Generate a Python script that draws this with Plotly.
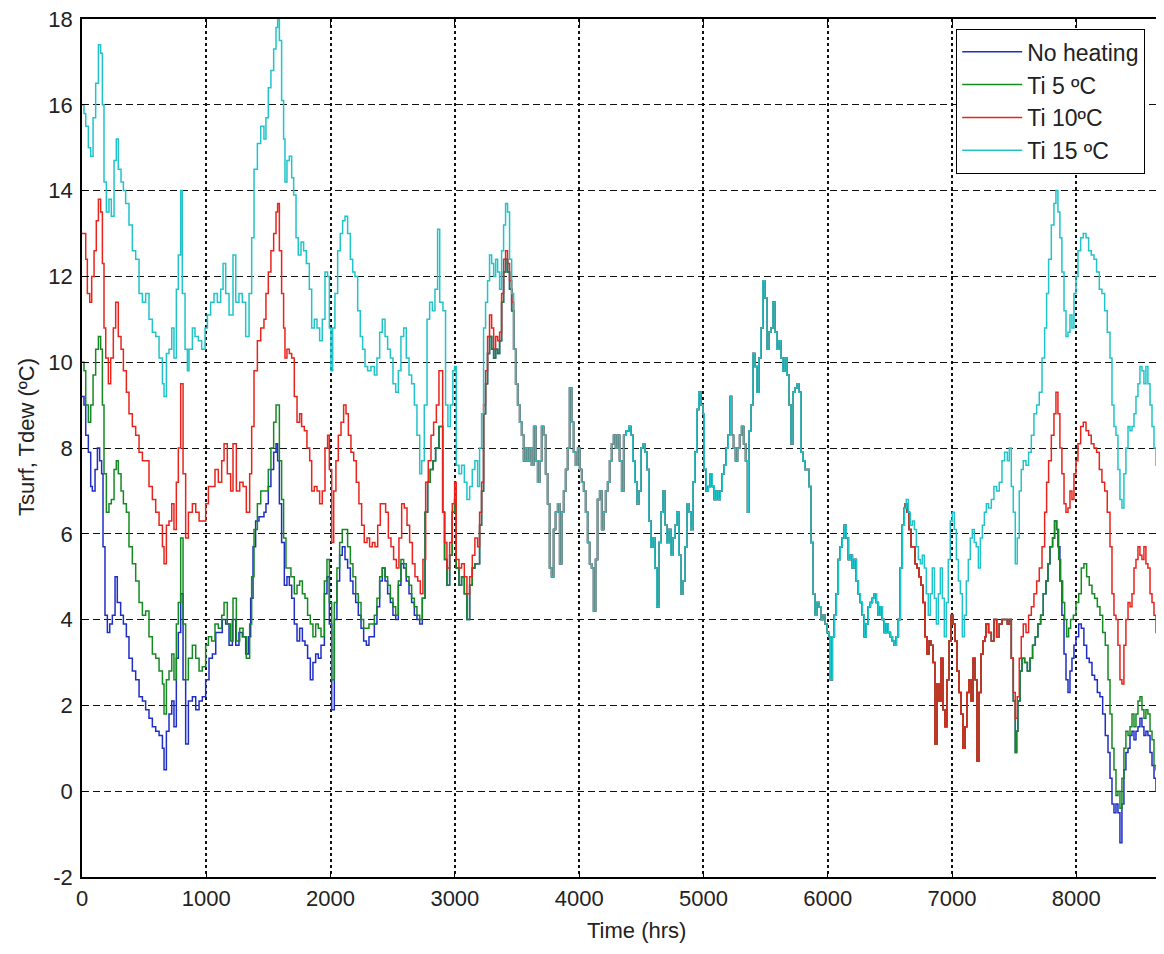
import plotly.graph_objects as go

# ---------------- data (hour, temperature) ----------------
x_ticks = [0, 1000, 2000, 3000, 4000, 5000, 6000, 7000, 8000]
y_ticks = [-2, 0, 2, 4, 6, 8, 10, 12, 14, 16, 18]
series_names = ["No heating", "Ti 5 ºC", "Ti 10ºC", "Ti 15 ºC"]

# Ti 15 ºC, start of year (0 - 3460 h)
cyan_head = [(0,16.0),(16,15.8),(30,15.5),(51,15.0),(70,14.8),(89,15.7),(110,16.5),(132,17.4),(150,17.2),(164,16.0),
    (177,14.2),(196,13.5),(217,13.8),(236,13.4),(258,14.7),(276,15.2),(292,14.5),(314,14.2),(333,14.0),(351,13.7),
    (378,13.2),(405,12.6),(432,12.4),(459,11.6),(486,11.4),(512,11.6),(539,11.0),(566,10.7),(593,10.6),(620,10.1),
    (647,9.5),(660,9.2),(679,10.2),(700,10.3),(722,10.8),(740,10.1),(759,11.7),(775,12.5),(794,14.0),(807,11.6),
    (829,10.3),(848,9.8),(861,10.3),(888,10.8),(909,10.6),(936,10.5),(963,10.3),(990,10.8),(1009,11.1),(1035,11.4),
    (1062,11.6),(1089,11.4),(1116,11.7),(1135,12.3),(1156,11.6),(1183,11.1),(1215,12.5),(1237,11.4),(1263,11.6),(1290,11.4),
    (1317,10.6),(1344,11.6),(1365,12.9),(1384,14.5),(1411,15.1),(1438,15.5),(1464,15.2),
    (1480,15.7),(1499,16.4),(1520,16.8),(1542,17.3),(1561,17.8),(1574,18.0),(1588,17.5),(1606,16.1),(1622,15.2),(1633,14.2),
    (1649,14.7),(1668,14.8),(1687,14.3),(1703,13.9),(1722,12.9),(1740,12.5),(1762,12.8),(1783,12.6),(1805,12.3),(1829,11.7),
    (1848,10.8),(1869,11.0),(1891,10.8),(1912,10.5),(1933,11.0),(1955,12.1),(1976,12.0),(1990,10.8),(2003,9.8),(2017,10.8),
    (2035,11.6),(2057,12.6),(2078,13.0),(2097,13.3),(2116,13.4),(2137,13.0),(2159,12.4),(2178,12.1),(2196,12.0),(2218,11.2),
    (2239,10.6),(2258,10.3),(2277,9.9),(2298,9.8),(2325,9.9),(2352,9.7),(2373,10.1),(2395,10.7),(2416,11.0),(2438,10.6),
    (2459,10.3),(2481,10.1),(2502,9.5),(2524,9.3),(2545,9.8),(2566,10.6),(2588,10.8),(2609,10.1),(2631,9.7),(2652,9.5),
    (2674,9.0),(2695,8.3),(2717,7.4),(2733,7.7),(2754,9.0),(2776,11.0),(2797,11.4),(2819,11.2),(2840,11.7),(2861,13.1),
    (2878,11.4),(2904,11.2),(2925,9.0),(2944,8.5),(2963,9.0),(2984,9.8),(2998,9.9),(3011,7.6),(3033,7.4),(3054,7.6),
    (3076,7.2),(3097,6.8),(3119,7.1),(3140,7.5),(3161,7.7),(3183,7.1),(3199,8.0),(3215,8.8),(3231,10.8),(3247,11.4),
    (3263,11.9),(3279,12.5),(3296,12.3),(3312,12.0),(3328,12.4),(3344,12.1),(3360,11.7),(3376,12.6),(3392,13.2),(3408,13.7),
    (3424,13.5),(3440,12.4),(3457,11.6)]

# Ti 10ºC, start of year
red_head = [(0,13.0),(16,13.0),(30,12.4),(43,11.6),(62,11.4),(78,12.0),(97,12.6),(115,13.3),(132,13.8),(150,13.5),
    (164,12.3),(177,10.8),(191,10.1),(212,9.5),(231,10.1),(252,10.8),(271,11.4),(292,10.6),(314,10.3),(333,9.8),
    (357,9.3),(378,8.8),(405,8.5),(432,8.3),(459,7.9),(486,7.7),(512,7.7),(539,7.1),(566,6.8),(593,6.5),
    (620,6.2),(647,5.7),(660,5.3),(679,6.2),(700,6.3),(722,6.7),(740,6.1),(759,7.2),(775,8.0),(794,9.5),
    (813,7.4),(834,5.9),(856,6.5),(888,6.7),(915,6.5),(942,6.3),(968,6.3),(995,6.7),(1017,7.1),(1043,7.1),
    (1070,7.5),(1097,7.2),(1124,7.7),(1143,8.1),(1169,7.4),(1196,7.0),(1215,8.1),(1242,7.0),(1269,7.2),(1296,7.1),
    (1322,6.5),(1349,7.4),(1365,8.5),(1384,9.8),(1411,10.5),(1438,10.8),(1464,11.0),
    (1480,11.6),(1499,12.1),(1520,12.6),(1542,13.0),(1561,13.5),(1574,13.7),(1588,12.6),(1606,11.6),(1622,10.8),(1633,10.1),
    (1649,10.3),(1668,10.2),(1687,10.1),(1708,9.2),(1730,8.6),(1751,8.8),(1767,8.5),(1789,8.4),(1810,8.0),(1832,7.7),
    (1848,7.0),(1869,7.1),(1891,7.0),(1912,6.7),(1933,7.0),(1955,8.0),(1976,8.3),(1990,7.5),(2009,5.8),(2025,7.0),
    (2043,7.7),(2062,8.3),(2084,8.6),(2105,9.0),(2124,8.8),(2143,8.3),(2164,7.9),(2186,7.7),(2207,7.2),(2228,6.7),
    (2250,6.2),(2271,5.8),(2293,5.9),(2314,5.7),(2336,5.8),(2357,5.7),(2379,6.2),(2400,6.7),(2422,6.7),(2443,6.5),
    (2465,5.9),(2486,5.7),(2507,5.4),(2529,5.2),(2550,5.9),(2572,6.7),(2593,6.6),(2615,6.2),(2636,5.8),(2658,5.3),
    (2679,5.0),(2701,4.9),(2722,4.6),(2743,5.4),(2765,7.2),(2786,7.7),(2808,8.3),(2829,8.6),(2851,9.0),(2872,9.8),
    (2902,6.5),(2917,5.8),(2936,5.2),(2958,5.8),(2979,6.7),(2998,7.2),(3011,5.4),(3033,5.2),(3054,5.3),(3076,5.0),
    (3097,4.6),(3119,5.0),(3140,5.5),(3161,5.9),(3183,5.7),(3199,6.5),(3215,7.2),(3231,9.0),(3247,9.8),(3263,10.6),
    (3279,11.1),(3296,10.8),(3312,10.3),(3328,10.6),(3344,10.5),(3360,10.7),(3376,11.6),(3392,12.4),(3408,12.6),(3424,12.3),
    (3440,11.9),(3457,11.4)]

# Ti 5 ºC, start of year
green_head = [(0,10.0),(16,9.8),(30,9.0),(51,8.6),(70,9.0),(89,9.7),(110,10.3),(132,10.6),(150,10.3),(164,9.0),
    (177,7.4),(196,6.5),(217,6.7),(236,6.8),(258,7.5),(276,7.7),(292,7.4),(314,7.0),(333,6.7),(357,6.5),
    (378,5.7),(405,5.3),(432,4.9),(459,4.4),(486,4.1),(512,4.2),(539,3.6),(566,3.2),(593,3.1),(620,2.8),
    (647,2.5),(660,1.8),(679,2.6),(700,2.8),(722,3.2),(740,2.6),(759,3.9),(775,4.4),(794,5.9),(813,3.9),
    (834,2.6),(856,3.1),(888,3.4),(915,3.1),(942,2.8),(968,2.9),(995,3.4),(1017,3.6),(1043,3.5),(1070,3.9),
    (1097,3.8),(1124,4.1),(1143,4.4),(1169,3.9),(1196,3.5),(1215,4.5),(1242,3.5),(1269,3.8),(1296,3.6),(1322,3.1),
    (1349,3.9),(1365,5.0),(1384,6.1),(1411,6.7),(1438,7.0),(1464,7.0),
    (1480,7.0),(1499,7.5),(1520,8.0),(1542,8.6),(1561,9.0),(1574,9.0),(1588,7.7),(1606,6.8),(1622,5.9),(1641,5.2),
    (1660,5.2),(1681,5.0),(1708,4.6),(1730,4.8),(1751,4.9),(1773,4.6),(1794,4.5),(1815,4.1),(1837,3.9),(1858,3.6),
    (1880,3.9),(1901,3.8),(1923,3.6),(1950,4.9),(1971,5.4),(1990,4.4),(2009,2.6),(2030,4.4),(2051,5.2),(2073,5.8),
    (2094,6.1),(2116,6.1),(2137,5.7),(2159,5.3),(2180,5.0),(2202,4.6),(2223,4.4),(2245,4.0),(2266,3.8),(2288,3.8),
    (2309,3.9),(2330,3.9),(2352,4.1),(2373,4.5),(2395,5.0),(2416,5.2),(2438,5.0),(2459,4.8),(2481,4.5),(2502,4.3),
    (2524,4.1),(2545,4.9),(2566,5.4),(2588,5.3),(2609,5.0),(2631,4.8),(2652,4.5),(2674,4.3),(2695,4.1),(2717,4.0),
    (2738,4.5),(2760,6.5),(2781,7.2),(2802,7.5),(2824,7.7),(2845,8.0),(2872,8.5),(2902,6.5),(2917,5.4),(2936,4.8),
    (2958,5.5),(2979,6.5),(2998,6.8),(3011,5.2),(3033,4.8),(3054,5.0),(3076,4.6),(3097,4.0),(3119,4.8),(3140,5.2),
    (3161,5.3),(3183,5.3),(3199,6.2),(3215,7.0),(3231,8.8),(3247,9.5),(3263,10.2),(3279,10.6),(3296,10.3),(3312,10.1),
    (3328,10.3),(3344,10.2),(3360,10.5),(3376,11.4),(3392,12.1),(3408,12.4),(3424,12.1),(3440,11.7),(3457,11.2)]

# No heating, start of year (later follows Ti 5 ºC)
blue_head = [(0,9.2),(16,9.0),(30,8.3),(51,7.9),(70,7.1),(83,7.0),(105,7.5),(124,8.0),(142,7.7),(158,7.4),
    (169,5.7),(185,4.1),(204,3.7),(223,3.9),(244,4.1),(266,5.0),(284,4.4),(311,4.1),(333,3.9),(357,3.6),
    (378,3.1),(405,2.8),(432,2.6),(459,2.2),(486,2.1),(512,1.9),(539,1.7),(566,1.5),(593,1.4),(620,1.3),
    (647,1.0),(660,0.5),(679,1.4),(700,1.8),(722,2.1),(740,1.5),(759,3.1),(775,3.7),(794,4.6),(813,2.6),
    (834,1.1),(856,2.1),(888,2.2),(915,1.9),(942,2.1),(968,2.2),(995,2.6),(1022,3.1),(1049,3.2),(1076,3.7),
    (1102,3.7),(1129,4.0),(1156,3.9),(1183,3.4),(1210,4.0),(1237,3.4),(1263,3.7),(1290,3.6),(1317,3.2),(1338,3.6),
    (1357,4.5),(1376,5.7),(1397,6.3),(1424,6.4),(1464,6.5),
    (1480,6.7),(1499,7.1),(1520,7.5),(1542,7.9),(1561,8.1),(1574,7.7),(1588,6.7),(1606,5.8),(1628,4.8),(1649,5.0),
    (1668,4.8),(1687,4.5),(1708,3.9),(1730,3.5),(1751,3.8),(1773,3.5),(1794,3.4),(1815,3.1),(1837,2.6),(1858,3.0),
    (1880,3.2),(1901,3.1),(1923,3.4),(1950,4.6),(1971,5.0),(1990,3.9),(2009,1.9),(2030,4.0),(2051,4.9),(2073,5.5),
    (2094,5.7),(2116,5.4),(2137,5.2),(2159,4.9),(2180,4.6),(2202,4.4),(2223,4.1),(2245,3.8),(2266,3.5),(2288,3.4),
    (2309,3.6),(2330,3.6),(2352,3.9),(2373,4.3),(2395,4.9),(2416,5.2),(2438,4.9),(2459,4.6),(2481,4.4),(2502,4.1),
    (2524,4.0),(2545,4.8),(2566,5.3),(2588,5.2),(2609,4.9),(2631,4.6),(2652,4.4),(2674,4.1),(2695,4.0),(2717,3.9)]

# all four cases coincide (about 3470 - 6620 h)
common_mid = [(3473,10.3),(3489,9.5),(3505,9.0),(3521,8.6),(3537,8.3),(3553,7.7),(3569,8.0),(3585,7.7),(3601,8.0),(3617,7.6),
    (3634,8.5),(3650,7.7),(3666,7.2),(3682,7.7),(3698,8.5),(3714,8.3),(3730,7.4),(3746,6.7),(3762,5.2),(3778,5.0),
    (3794,6.1),(3810,6.5),(3827,6.7),(3843,5.3),(3859,6.5),(3875,7.0),(3891,7.5),(3907,8.0),(3923,9.4),(3939,8.6),
    (3955,7.9),(3971,7.6),(3988,8.0),(4004,7.5),(4020,7.2),(4036,7.0),(4052,6.5),(4068,5.8),(4084,5.3),(4100,5.2),
    (4116,4.2),(4132,5.4),(4148,6.8),(4165,7.0),(4181,6.1),(4197,6.5),(4213,7.0),(4229,7.2),(4245,7.7),(4261,8.1),
    (4277,8.3),(4293,8.0),(4309,8.3),(4325,7.7),(4342,7.0),(4358,8.3),(4379,8.4),
    (4400,8.5),(4416,8.3),(4432,7.7),(4448,7.2),(4465,6.7),(4481,7.0),(4497,8.0),(4513,8.1),(4529,7.9),(4545,7.5),
    (4561,6.3),(4577,5.7),(4593,5.9),(4609,5.2),(4625,4.3),(4642,5.8),(4658,6.5),(4674,7.0),(4690,6.2),(4706,5.8),
    (4722,6.1),(4738,5.5),(4754,5.9),(4770,6.2),(4786,6.5),(4802,5.5),(4819,4.6),(4835,4.9),(4851,5.7),(4867,6.7),
    (4883,6.5),(4899,6.1),(4915,7.2),(4931,7.9),(4947,8.9),(4963,9.3),(4979,9.0),(4996,8.8),(5006,7.5),(5022,7.0),
    (5039,7.1),(5055,7.4),(5071,7.1),(5087,6.8),(5103,7.0),(5119,6.8),(5135,7.0),(5151,7.4),(5167,7.6),(5183,8.0),
    (5199,8.3),(5216,9.2),(5226,8.3),(5242,8.0),(5258,7.7),(5274,8.0),(5291,8.3),(5307,8.5),(5323,8.1),(5339,7.7),
    (5355,6.5),(5366,8.4),(5382,9.0),(5398,10.2),(5414,9.9),(5430,9.3),(5446,10.1),(5462,10.8),(5478,11.9),(5494,11.5),
    (5511,10.3),(5527,10.7),(5543,10.8),(5559,11.4),(5575,10.7),(5591,10.3),(5607,10.5),(5623,10.1),(5639,9.8),(5655,10.1),
    (5671,9.7),(5688,9.0),(5704,8.1),(5720,9.3),(5736,9.4),(5752,9.5),(5768,9.3),(5784,7.9),(5800,7.7),(5816,7.5),
    (5849,7.1),(5865,5.8),(5881,4.6),(5897,4.1),(5913,4.4),(5930,4.3),(5946,4.0),(5962,4.1),(5978,3.9),(5994,3.7),
    (6010,3.6),(6022,2.6),(6037,3.6),(6053,4.1),(6069,4.6),(6085,5.4),(6101,5.7),(6117,5.9),(6133,6.2),(6149,5.9),
    (6166,5.4),(6182,5.5),(6198,5.2),(6214,5.4),(6230,4.9),(6246,4.6),(6262,4.4),(6278,4.1),(6294,3.6),(6310,3.9),
    (6326,4.3),(6343,4.4),(6359,4.5),(6375,4.6),(6391,4.4),(6407,4.1),(6423,4.3),(6439,4.0),(6455,3.7),(6471,3.9),
    (6487,3.7),(6504,3.6),(6520,3.5),(6536,3.4),(6552,3.6),(6568,4.0),(6584,5.2),(6600,6.2),(6616,6.6)]

# Ti 15 ºC, end of year
cyan_tail = [(6632,6.8),(6648,6.5),(6664,6.2),(6681,6.3),(6697,6.1),(6713,5.7),(6729,5.4),(6745,5.3),(6761,5.5),(6777,5.2),
    (6793,4.6),(6809,4.1),(6825,4.6),(6841,5.2),(6858,4.5),(6874,3.9),(6890,4.6),(6906,5.2),(6922,4.5),(6938,3.6),
    (6954,4.4),(6970,5.4),(6986,6.3),(7002,6.5),(7018,6.1),(7035,5.4),(7051,4.9),(7067,4.6),(7083,3.6),(7099,4.1),
    (7115,4.9),(7131,5.4),(7147,5.9),(7163,6.1),(7179,5.8),(7195,5.7),(7212,5.2),(7228,5.9),(7244,6.2),(7260,6.5),
    (7276,6.7),(7294,6.6),(7316,6.8),(7337,7.1),(7359,7.0),(7380,7.2),(7402,7.7),(7423,7.9),(7445,7.7),(7461,8.0),
    (7477,7.1),(7493,6.5),(7509,5.3),(7525,5.9),(7541,7.0),(7557,7.5),(7573,7.7),(7595,7.6),(7616,7.9),(7638,8.3),
    (7659,8.8),(7681,9.0),(7702,9.3),(7724,10.1),(7745,10.8),(7761,11.6),(7777,12.4),(7799,13.2),(7820,13.7),(7836,14.0),
    (7852,13.5),(7868,12.9),(7884,12.1),(7901,11.2),(7917,10.6),(7933,10.7),(7949,11.1),(7965,10.8),(7981,11.6),(7997,12.0),
    (8013,12.6),(8035,12.9),(8056,13.0),(8078,12.9),(8099,12.6),(8120,12.5),(8142,12.4),(8163,12.1),(8185,11.7),(8206,11.6),
    (8228,11.2),(8249,10.7),(8271,10.1),(8287,9.0),(8303,8.5),(8319,8.3),(8335,7.5),(8351,6.8),(8367,6.6),(8383,7.4),
    (8399,8.0),(8416,8.5),(8432,8.4),(8448,8.5),(8464,8.8),(8480,9.2),(8496,9.5),(8512,9.9),(8528,9.8),(8544,9.5),
    (8560,9.9),(8576,9.5),(8593,9.0),(8609,8.5),(8625,8.0),(8641,7.6),(8657,7.9),(8673,8.5),(8689,8.8),(8713,8.8)]

# Ti 10ºC, Ti 5 ºC and No heating coincide (about 6620 - 7480 h)
cold_mid = [(6624,6.7),(6638,6.5),(6654,6.1),(6670,5.7),(6686,5.7),(6702,5.3),(6718,5.2),(6734,5.0),(6750,4.8),(6766,4.4),
    (6782,3.6),(6798,3.2),(6815,3.5),(6831,3.4),(6847,3.0),(6863,1.1),(6879,2.5),(6895,2.1),(6911,3.1),(6927,1.9),
    (6943,1.5),(6959,2.6),(6976,3.5),(6992,4.1),(7008,3.9),(7024,3.5),(7040,2.8),(7056,2.3),(7072,1.8),(7088,1.0),
    (7104,1.5),(7120,2.3),(7136,2.6),(7153,2.1),(7169,3.1),(7185,2.6),(7201,0.7),(7217,2.3),(7233,3.2),(7249,3.5),
    (7265,3.6),(7273,3.9),(7294,3.7),(7316,3.5),(7337,4.0),(7359,3.6),(7380,3.9),(7402,4.0),(7423,4.0),(7445,3.9),
    (7461,4.0),(7477,3.1)]

# Ti 10ºC, end of year
red_tail = [(7493,2.3),(7509,1.7),(7525,2.2),(7541,3.1),(7557,3.6),(7573,3.9),(7595,3.7),(7616,4.1),(7638,4.3),(7659,4.6),
    (7681,4.9),(7702,5.2),(7724,5.7),(7745,6.5),(7761,7.2),(7777,7.7),(7799,8.3),(7820,8.8),(7836,9.3),(7852,8.8),
    (7868,8.0),(7884,7.4),(7901,6.7),(7917,6.5),(7933,6.6),(7949,7.0),(7965,6.8),(7981,7.4),(7997,7.7),(8013,8.1),
    (8035,8.5),(8056,8.6),(8078,8.4),(8099,8.3),(8120,8.1),(8142,8.0),(8163,7.9),(8185,7.5),(8206,7.2),(8228,7.0),
    (8249,6.5),(8271,5.7),(8287,4.6),(8303,4.1),(8319,4.0),(8335,3.4),(8351,2.6),(8367,2.5),(8383,3.4),(8399,4.0),
    (8416,4.4),(8432,4.3),(8448,4.6),(8464,5.2),(8480,5.4),(8496,5.7),(8512,5.5),(8528,5.4),(8544,5.7),(8560,5.3),
    (8576,5.2),(8593,4.6),(8609,4.4),(8625,4.1),(8641,3.7),(8657,3.5),(8673,3.9),(8689,4.1),(8713,3.9)]

# Ti 5 ºC, end of year
green_tail = [(7493,2.1),(7509,0.9),(7520,1.4),(7530,2.1),(7547,2.8),(7563,3.1),(7584,3.0),(7606,2.8),(7627,3.1),(7648,3.4),
    (7670,3.6),(7691,3.9),(7713,4.1),(7734,4.6),(7756,4.9),(7772,5.3),(7788,5.7),(7809,5.9),(7825,6.3),(7842,6.1),
    (7858,5.4),(7874,4.9),(7890,4.4),(7906,4.0),(7922,3.6),(7938,3.8),(7954,4.0),(7976,4.1),(7997,4.4),(8019,4.6),
    (8040,5.2),(8061,5.3),(8083,5.0),(8104,4.8),(8126,4.6),(8147,4.5),(8169,4.3),(8190,4.1),(8212,3.7),(8233,3.4),
    (8255,2.6),(8271,1.8),(8287,1.0),(8303,0.5),(8319,-0.1),(8335,0.0),(8351,-0.4),(8367,0.3),(8383,1.0),(8399,1.4),
    (8416,1.3),(8432,1.5),(8448,1.8),(8464,1.5),(8480,1.8),(8496,2.1),(8512,2.2),(8528,1.9),(8544,1.7),(8560,1.9),
    (8576,1.8),(8593,1.4),(8609,1.2),(8625,0.6),(8641,0.5),(8657,0.9),(8673,1.2),(8694,1.0),(8713,1.3)]

# No heating, end of year
blue_tail = [(7852,5.7),(7868,4.9),(7884,4.1),(7901,3.2),(7917,2.6),(7933,2.3),(7949,2.8),(7965,3.1),(7981,3.4),(7997,3.6),
    (8019,3.9),(8040,3.8),(8061,3.4),(8083,3.1),(8104,3.0),(8126,2.7),(8147,2.6),(8169,2.3),(8190,2.2),(8212,1.8),
    (8233,1.3),(8255,0.9),(8271,0.3),(8287,-0.3),(8303,-0.5),(8319,-0.3),(8335,-0.5),(8351,-1.2),(8367,-0.3),(8383,0.5),
    (8399,0.9),(8416,1.0),(8432,1.3),(8448,1.4),(8464,1.2),(8480,1.4),(8496,1.5),(8512,1.7),(8528,1.5),(8544,1.3),
    (8560,1.4),(8576,1.3),(8593,0.9),(8609,0.6),(8625,0.3),(8641,0.0),(8657,0.3),(8673,0.6),(8694,0.5),(8713,0.8)]

# ---------------- assemble the four series ----------------
green_early_link = [p for p in green_head if p[0] > 2717]
green_late_link = [p for p in green_tail if p[0] < 7852]

series_points = [
    blue_head + green_early_link + common_mid + cold_mid + green_late_link + blue_tail,
    green_head + common_mid + cold_mid + green_tail,
    red_head + common_mid + cold_mid + red_tail,
    cyan_head + common_mid + cyan_tail,
]
colors = ["#1f2ec6", "#168a22", "#e8241c", "#20c4ca"]

fig = go.Figure()
for name, pts, col in zip(series_names, series_points, colors):
    fig.add_trace(go.Scatter(
        x=[p[0] for p in pts], y=[p[1] for p in pts],
        mode="lines", name=name,
        line=dict(color=col, width=1.5, shape="hv"),
    ))

font_main = "Liberation Sans, Arial, sans-serif"
# the page body adds an 8 px offset; positions below are given in window pixels
OFF = 8
W, H = 1164 - OFF, 954 - 2 * OFF
plot_l, plot_t, plot_r, plot_b = 82, 19, 1164, 877
ml, mt = plot_l - OFF, plot_t - OFF
mr = (W + OFF) - plot_r
mb = (H + OFF) - plot_b
pw, ph = plot_r - plot_l, plot_b - plot_t


def px_x(px):
    return (px - plot_l) / pw


def px_y(py):
    return 1 - (py - plot_t) / ph


fig.update_layout(
    width=W, height=H,
    margin=dict(l=ml, r=mr, t=mt, b=mb, pad=0, autoexpand=False),
    paper_bgcolor="white", plot_bgcolor="white",
    font=dict(family=font_main, size=22, color="#222222"),
    showlegend=True,
    legend=dict(
        x=px_x(956), y=px_y(29), xanchor="left", yanchor="top",
        bgcolor="white", bordercolor="black", borderwidth=1.2,
        font=dict(family=font_main, size=23, color="#222222"),
        itemwidth=60, entrywidth=200, entrywidthmode="pixels",
    ),
    annotations=[
        dict(text="Time (hrs)", xref="paper", yref="paper",
             x=px_x(636), y=px_y(930),
             xanchor="center", yanchor="middle", showarrow=False,
             font=dict(family=font_main, size=22, color="#222222")),
        dict(text="Tsurf, Tdew (ºC)", xref="paper", yref="paper",
             x=px_x(26), y=px_y(437), textangle=-90,
             xanchor="center", yanchor="middle", showarrow=False,
             font=dict(family=font_main, size=22, color="#222222")),
    ],
)

fig.update_xaxes(
    range=[0, pw / 0.12429], tickvals=x_ticks, ticktext=[str(v) for v in x_ticks],
    showline=True, linecolor="black", linewidth=1.5, mirror="ticks",
    ticks="inside", ticklen=6, tickcolor="black", tickwidth=1.2,
    showgrid=True, gridcolor="#111111", gridwidth=1.6, griddash="dot",
    zeroline=False, ticklabelstandoff=1, automargin=False, ticklabeloverflow="allow",
)
fig.update_yaxes(
    range=[-2, 18], tickvals=y_ticks, ticktext=[str(v) for v in y_ticks],
    showline=True, linecolor="black", linewidth=1.5, mirror=False,
    ticks="inside", ticklen=6, tickcolor="black", tickwidth=1.2,
    showgrid=True, gridcolor="#111111", gridwidth=1, griddash="7px,4px",
    zeroline=False, ticklabelstandoff=3, automargin=False, ticklabeloverflow="allow",
)

fig.write_html("out.html")
